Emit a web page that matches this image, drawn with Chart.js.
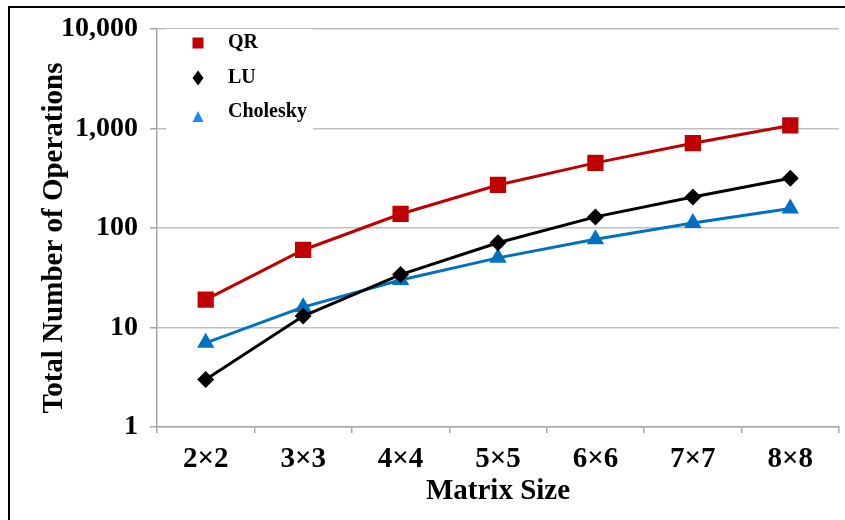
<!DOCTYPE html>
<html>
<head>
<meta charset="utf-8">
<script src="https://cdn.jsdelivr.net/npm/chart.js@4/dist/chart.umd.min.js"></script>
<style>
  html, body { margin: 0; padding: 0; background: #fff; }
  #wrap { position: relative; width: 845px; height: 520px; }
  canvas { display: block; }
</style>
</head>
<body>
<div id="wrap"><canvas id="chart" width="845" height="520"></canvas></div>
<script>
// Matrix sizes on the x axis
const categories = ['2×2', '3×3', '4×4', '5×5', '6×6', '7×7', '8×8'];

// Total operation counts per decomposition
const qrOps = [19, 60, 138, 270, 450, 710, 1070];
const luOps = [3, 13, 34, 71, 129, 204, 316];
const choleskyOps = [7, 16, 30, 50, 77, 112, 157];

// Log-axis tick values
const yTicks = [1, 10, 100, 1000, 10000];

const yTitle = 'Total Number of Operations';
const xTitle = 'Matrix Size';

const serif = "'Liberation Serif', 'Times New Roman', serif";

const seriesStyle = [
  { label: 'QR', data: qrOps, color: '#C00000', legendColor: '#C00000', style: 'rect', radius: 11.5 },
  { label: 'LU', data: luOps, color: '#000000', legendColor: '#000000', style: 'rectRot', radius: 8.5 },
  { label: 'Cholesky', data: choleskyOps, color: '#0070C0', legendColor: '#1E88FF', style: 'triangle', radius: 10 }
];

// Outer frame, vertical axis title and an in-plot legend
const framePlugin = {
  id: 'frame',
  beforeDatasetsDraw(chart) {
    const ctx = chart.ctx;
    ctx.save();
    ctx.fillStyle = '#ffffff';
    ctx.fillRect(166, 29, 147, 101);
    ctx.restore();
  },
  afterDraw(chart) {
    const ctx = chart.ctx;
    ctx.save();
    ctx.strokeStyle = '#000000';
    ctx.lineWidth = 2;
    ctx.beginPath();
    ctx.moveTo(9, 530);
    ctx.lineTo(9, 7);
    ctx.lineTo(850, 7);
    ctx.stroke();

    // rotated y-axis title
    ctx.save();
    ctx.translate(55, 238);
    ctx.rotate(-Math.PI / 2);
    ctx.fillStyle = '#000000';
    ctx.font = 'bold 29px ' + serif;
    ctx.textAlign = 'center';
    ctx.textBaseline = 'middle';
    ctx.fillText(yTitle, 0, 0);
    ctx.restore();

    const rows = [43, 78, 112];
    chart.data.datasets.forEach((ds, i) => {
      const y = rows[i];
      const x = 198;
      ctx.fillStyle = ds.legendColor;
      ctx.beginPath();
      if (ds.pointStyle === 'rect') {
        ctx.rect(x - 5.5, y - 5.5, 11, 11);
      } else if (ds.pointStyle === 'rectRot') {
        ctx.moveTo(x, y - 7.5);
        ctx.lineTo(x + 5.5, y);
        ctx.lineTo(x, y + 7.5);
        ctx.lineTo(x - 5.5, y);
        ctx.closePath();
      } else {
        ctx.moveTo(x, y - 1);
        ctx.lineTo(x + 5.5, y + 10);
        ctx.lineTo(x - 5.5, y + 10);
        ctx.closePath();
      }
      ctx.fill();
      ctx.fillStyle = '#000000';
      ctx.font = 'bold 20px ' + serif;
      ctx.textAlign = 'left';
      ctx.textBaseline = 'middle';
      ctx.fillText(ds.label, 228, y);
    });
    ctx.restore();
  }
};

new Chart(document.getElementById('chart'), {
  type: 'line',
  data: {
    labels: categories,
    datasets: seriesStyle.map(s => ({
      label: s.label,
      data: s.data,
      borderColor: s.color,
      backgroundColor: s.color,
      legendColor: s.legendColor,
      borderWidth: 3,
      tension: 0,
      pointStyle: s.style,
      pointRadius: s.radius,
      pointBorderWidth: 0,
      pointBackgroundColor: s.color,
      fill: false
    }))
  },
  options: {
    responsive: false,
    animation: false,
    events: [],
    layout: { autoPadding: false, padding: { left: 9, top: 27, right: 6, bottom: 0 } },
    plugins: {
      legend: { display: false },
      tooltip: { enabled: false }
    },
    scales: {
      x: {
        type: 'category',
        offset: true,
        border: { color: '#a6a6a6', width: 1.5 },
        grid: {
          offset: true,
          drawOnChartArea: false,
          drawTicks: true,
          tickLength: 6,
          color: '#a6a6a6',
          lineWidth: 1.5
        },
        ticks: {
          color: '#000',
          padding: 9,
          font: { family: serif, size: 29, weight: 'bold' }
        },
        title: {
          display: true,
          text: xTitle,
          color: '#000',
          padding: { top: 0, bottom: 11 },
          font: { family: serif, size: 29, weight: 'bold' }
        },
        afterFit(scale) {
          scale.height = 93;
          scale.paddingLeft = 0;
          scale.paddingRight = 0;
        }
      },
      y: {
        type: 'logarithmic',
        min: 1,
        max: 10000,
        border: { color: '#a6a6a6', width: 1.5 },
        grid: {
          color: '#bfbfbf',
          lineWidth: 1.5,
          drawTicks: true,
          tickLength: 7,
          tickColor: '#a6a6a6'
        },
        afterBuildTicks(scale) {
          scale.ticks = yTicks.map(v => ({ value: v }));
        },
        ticks: {
          color: '#000',
          padding: 12,
          autoSkip: false,
          font: { family: serif, size: 28, weight: 'bold' },
          callback: v => Number(v).toLocaleString('en-US')
        },
        title: { display: false },
        afterFit(scale) { scale.width = 148; }
      }
    }
  },
  plugins: [framePlugin]
});
</script>
</body>
</html>
